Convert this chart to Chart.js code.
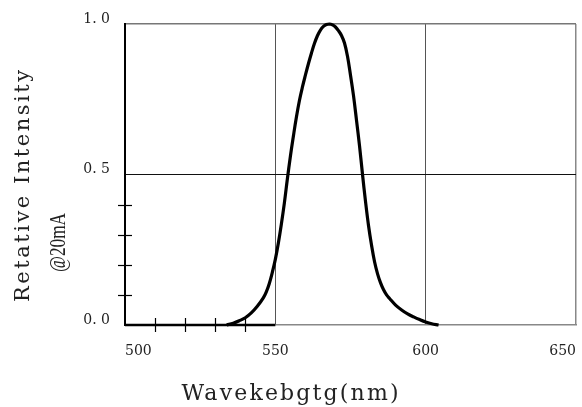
<!DOCTYPE html>
<html>
<head>
<meta charset="utf-8">
<script src="https://cdn.jsdelivr.net/npm/chart.js@4/dist/chart.umd.min.js"></script>
<style>
html,body{margin:0;padding:0;background:#fff;}
canvas{display:block;}
</style>
</head>
<body>
<canvas id="c" width="582" height="407"></canvas>
<script>
// ---- data ----
const wavelengths = [533.8,536,538,540,542,544,546,547,548,549,550,551,552,553,554,555,556,557,558,559,560,561,562,563,564,565,566,567,568,569,570,571,572,573,574,575,576,577,578,579,580,581,582,583,584,585,586,587,588,590,592,594,596,598,600,602,604.3];
const intensities = [0,0.006,0.014,0.024,0.04,0.062,0.09,0.11,0.138,0.175,0.218,0.272,0.335,0.405,0.485,0.56,0.627,0.69,0.745,0.79,0.83,0.868,0.903,0.935,0.961,0.98,0.992,0.998,1.0,0.997,0.99,0.978,0.962,0.937,0.893,0.83,0.762,0.68,0.595,0.50,0.41,0.33,0.265,0.21,0.17,0.14,0.117,0.1,0.088,0.066,0.05,0.037,0.027,0.018,0.01,0.004,0];
const baseSegmentX = [500, 550];
const xTickValues = [500, 550, 600, 650];
const yTickValues = [0, 0.5, 1];
const yTickLabels = ['0. 0', '0. 5', '1. 0'];
const minorXTicks = [510, 520, 530, 540];
const minorYTicks = [0.1, 0.2, 0.3, 0.4];
const xTitle = 'Wavekebgtg(nm)';
const yTitle1 = 'Retative Intensity';
const yTitle2 = '@20mA';

const curve = wavelengths.map((w, i) => ({x: w, y: intensities[i]}));
const baseSeg = baseSegmentX.map(w => ({x: w, y: 0}));

function fitText(ctx, text, width) {
  ctx.letterSpacing = '0px';
  const nat = ctx.measureText(text).width;
  const sp = (width - nat) / (text.length - 1);
  ctx.letterSpacing = sp.toFixed(2) + 'px';
  return sp;
}

const extras = {
  id: 'extras',
  afterDraw(chart) {
    const ctx = chart.ctx;
    const xs = chart.scales.x, ys = chart.scales.y;
    ctx.save();
    ctx.strokeStyle = '#000';
    ctx.lineWidth = 1.2;
    const y0 = ys.getPixelForValue(0);
    minorXTicks.forEach(v => {
      const px = Math.round(xs.getPixelForValue(v)) + 0.5;
      ctx.beginPath(); ctx.moveTo(px, y0 - 7); ctx.lineTo(px, y0 + 7); ctx.stroke();
    });
    const x0 = xs.getPixelForValue(500);
    minorYTicks.forEach(v => {
      const py = Math.round(ys.getPixelForValue(v)) + 0.5;
      ctx.beginPath(); ctx.moveTo(x0 - 7, py); ctx.lineTo(x0 + 7, py); ctx.stroke();
    });
    ctx.fillStyle = '#222';
    ctx.textAlign = 'left';
    ctx.textBaseline = 'alphabetic';
    // x title
    ctx.font = '22px "DejaVu Serif"';
    fitText(ctx, xTitle, 217);
    ctx.fillText(xTitle, 181.5, 400);
    // y title line 1
    ctx.save();
    ctx.font = '21px "DejaVu Serif"';
    fitText(ctx, yTitle1, 232);
    ctx.translate(28.5, 302);
    ctx.rotate(-Math.PI / 2);
    ctx.fillText(yTitle1, 0, 0);
    ctx.restore();
    // y title line 2
    ctx.save();
    ctx.font = '24px "Liberation Serif"';
    ctx.letterSpacing = '0px';
    const w = ctx.measureText(yTitle2).width;
    ctx.translate(65, 272);
    ctx.rotate(-Math.PI / 2);
    ctx.scale(59 / w, 1);
    ctx.fillText(yTitle2, 0, 0);
    ctx.restore();
    ctx.restore();
    ctx.letterSpacing = '0px';
  }
};

new Chart(document.getElementById('c'), {
  type: 'line',
  data: {
    datasets: [
      {data: curve, borderColor: '#000', borderWidth: 3.2, pointRadius: 0, tension: 0.4, clip: false, order: 1},
      {data: baseSeg, borderColor: '#000', borderWidth: 2.5, pointRadius: 0, clip: false, order: 2}
    ]
  },
  options: {
    responsive: false,
    devicePixelRatio: 1,
    animation: false,
    layout: {padding: {top: 24, right: 6, bottom: 0, left: 0}},
    plugins: {legend: {display: false}, tooltip: {enabled: false}, title: {display: false}},
    scales: {
      x: {
        type: 'linear', min: 500, max: 650,
        afterBuildTicks: s => { s.ticks = xTickValues.map(v => ({value: v})); },
        afterFit: s => { s.height = 82; s.paddingLeft = 0; s.paddingRight = 0; },
        ticks: {padding: 18, align: 'inner', color: '#222', font: {family: '"DejaVu Serif"', size: 14}, maxRotation: 0, autoSkip: false},
        grid: {
          drawTicks: false,
          color: c => (c.tick && (c.tick.value === 550 || c.tick.value === 600)) ? '#555' : (c.tick && c.tick.value === 650 ? '#888' : 'rgba(0,0,0,0)'),
          lineWidth: c => (c.tick && c.tick.value === 650) ? 1.5 : 1
        },
        border: {color: '#888', width: 1.5}
      },
      y: {
        type: 'linear', min: 0, max: 1,
        afterBuildTicks: s => { s.ticks = yTickValues.map(v => ({value: v})); },
        afterFit: s => { s.width = 125; s.paddingTop = 0; s.paddingBottom = 0; },
        ticks: {
          padding: 15, labelOffset: -5, color: '#222',
          font: {family: '"DejaVu Serif"', size: 14},
          callback: v => { const i = yTickValues.indexOf(v); return i >= 0 ? yTickLabels[i] : ''; }
        },
        grid: {
          drawTicks: false,
          color: c => (c.tick && c.tick.value === 0.5) ? '#111' : (c.tick && c.tick.value === 1 ? '#777' : 'rgba(0,0,0,0)'),
          lineWidth: c => (c.tick && c.tick.value === 1) ? 1.5 : 1
        },
        border: {color: '#000', width: 2}
      }
    }
  },
  plugins: [extras]
});
</script>
</body>
</html>
